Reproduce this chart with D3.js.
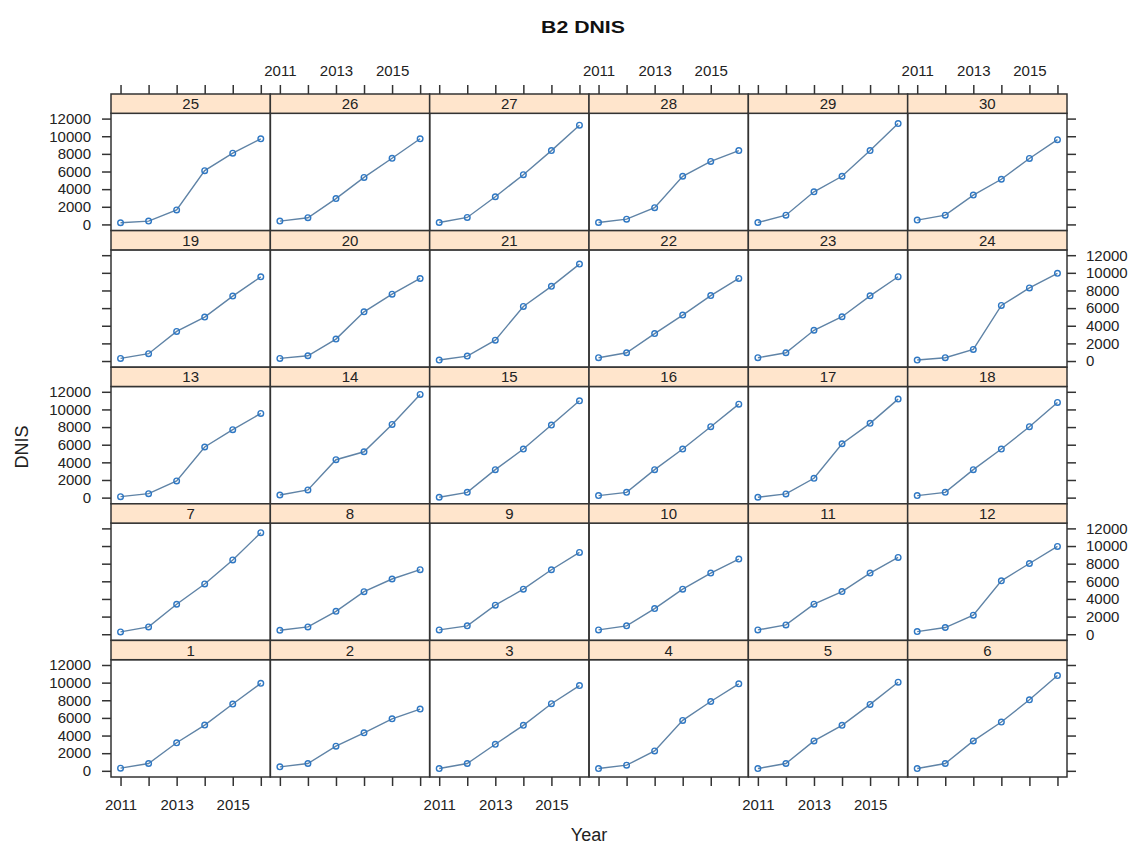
<!DOCTYPE html>
<html>
<head>
<meta charset="utf-8">
<script src="https://cdn.jsdelivr.net/npm/d3@7"></script>
<style>
  html, body { margin: 0; padding: 0; background: #fff; }
  svg { display: block; }
  text { font-family: "Liberation Sans", Arial, sans-serif; fill: #222; }
</style>
</head>
<body>
<svg id="chart" width="1133" height="846"></svg>
<script>
// Years on the x axis
const years = [2011, 2012, 2013, 2014, 2015, 2016];
// Tick values
const yTicks = [0, 2000, 4000, 6000, 8000, 10000, 12000];
const xLabelYears = [2011, 2013, 2015];
// Panel identifiers (1..30)
const panelIds = d3.range(1, 31);
// DNIS per panel, one value per year
const dnis1  = [300, 830, 3180, 5190, 7570, 9920];
const dnis2  = [450, 830, 2800, 4310, 5900, 7000];
const dnis3  = [260, 830, 3010, 5160, 7610, 9670];
const dnis4  = [260, 640, 2260, 5720, 7860, 9860];
const dnis5  = [260, 830, 3390, 5160, 7530, 10050];
const dnis6  = [260, 830, 3390, 5530, 8050, 10800];
const dnis7  = [260, 830, 3400, 5700, 8420, 11510];
const dnis8  = [450, 830, 2600, 4830, 6260, 7320];
const dnis9  = [490, 950, 3290, 5110, 7310, 9270];
const dnis10 = [490, 950, 2910, 5110, 6930, 8520];
const dnis11 = [490, 1060, 3410, 4840, 6930, 8710];
const dnis12 = [300, 760, 2160, 6060, 8020, 9950];
const dnis13 = [110, 450, 1890, 5740, 7700, 9550];
const dnis14 = [300, 870, 4300, 5200, 8300, 11700];
const dnis15 = [40, 600, 3170, 5510, 8230, 10980];
const dnis16 = [230, 600, 3170, 5510, 8040, 10600];
const dnis17 = [40, 420, 2190, 6110, 8420, 11170];
const dnis18 = [230, 600, 3170, 5510, 8040, 10790];
const dnis19 = [300, 830, 3360, 4980, 7360, 9550];
const dnis20 = [300, 600, 2490, 5580, 7580, 9360];
const dnis21 = [110, 560, 2360, 6190, 8470, 10990];
const dnis22 = [375, 940, 3110, 5210, 7420, 9370];
const dnis23 = [375, 940, 3490, 5020, 7390, 9560];
const dnis24 = [110, 375, 1310, 6300, 8290, 9940];
const dnis25 = [190, 380, 1640, 6100, 8080, 9710];
const dnis26 = [380, 760, 2930, 5330, 7500, 9710];
const dnis27 = [220, 790, 3140, 5640, 8370, 11250];
const dnis28 = [220, 600, 1900, 5460, 7140, 8370];
const dnis29 = [220, 1050, 3700, 5460, 8370, 11440];
const dnis30 = [490, 1050, 3330, 5120, 7480, 9610];

const series = [dnis1, dnis2, dnis3, dnis4, dnis5, dnis6, dnis7, dnis8, dnis9, dnis10,
  dnis11, dnis12, dnis13, dnis14, dnis15, dnis16, dnis17, dnis18, dnis19, dnis20,
  dnis21, dnis22, dnis23, dnis24, dnis25, dnis26, dnis27, dnis28, dnis29, dnis30];

// Layout
const nCols = 6, nRows = 5;
const gridLeft = 111, gridRight = 1067, gridTop = 94, gridBottom = 777;
const colW = (gridRight - gridLeft) / nCols;
const rowH = (gridBottom - gridTop) / nRows;
const stripH = 19.3;
const panelH = rowH - stripH;
const tickLen = 9;

const lineColor = "#5f83a6";
const pointColor = "#2f78c4";
const stripFill = "#ffe5cc";
const frameColor = "#333";

const svg = d3.select("#chart");

const x = d3.scaleLinear().domain([2010.66, 2016.34]).range([0, colW]);
const y = d3.scaleLinear().domain([-700, 12600]).range([panelH, 0]);

const fmtX = d => xLabelYears.includes(d) ? String(d) : "";
const noLabel = () => "";

// Title
svg.append("text")
  .attr("transform", "translate(583,33) scale(1.25,1)")
  .attr("text-anchor", "middle")
  .style("font-weight", "bold")
  .style("font-size", "17px")
  .style("fill", "#111")
  .text("B2 DNIS");

// Axis titles
svg.append("text")
  .attr("x", 589).attr("y", 841)
  .attr("text-anchor", "middle")
  .style("font-size", "18px")
  .text("Year");
svg.append("text")
  .attr("transform", "translate(28,447) rotate(-90)")
  .attr("text-anchor", "middle")
  .style("font-size", "18px")
  .text("DNIS");

function styleAxis(g) {
  g.select(".domain").remove();
  g.selectAll(".tick line").attr("stroke", frameColor).attr("stroke-width", 1.5);
  g.selectAll(".tick text").style("font-size", "15px").style("fill", "#222").attr("font-family", null);
}

for (let r = 0; r < nRows; r++) {
  for (let c = 0; c < nCols; c++) {
    const id = (nRows - 1 - r) * nCols + c + 1;
    const vals = series[id - 1];
    const px = gridLeft + c * colW;
    const stripTop = gridTop + r * rowH;
    const py = stripTop + stripH;

    const panel = svg.append("g").attr("transform", `translate(${px},${py})`);

    // data line and open circles
    const pts = years.map((yr, i) => ({ yr, v: vals[i] }));
    panel.append("path")
      .datum(pts)
      .attr("fill", "none")
      .attr("stroke", lineColor)
      .attr("stroke-width", 1.4)
      .attr("d", d3.line().x(d => x(d.yr)).y(d => y(d.v)));
    panel.selectAll("circle")
      .data(pts)
      .join("circle")
      .attr("cx", d => x(d.yr))
      .attr("cy", d => y(d.v))
      .attr("r", 2.8)
      .attr("fill", "none")
      .attr("stroke", pointColor)
      .attr("stroke-width", 1.4);

    // panel frame
    panel.append("rect")
      .attr("x", 0).attr("y", 0).attr("width", colW).attr("height", panelH)
      .attr("fill", "none").attr("stroke", frameColor).attr("stroke-width", 1.5);

    // strip
    const strip = svg.append("g").attr("transform", `translate(${px},${stripTop})`);
    strip.append("rect")
      .attr("width", colW).attr("height", stripH)
      .attr("fill", stripFill).attr("stroke", frameColor).attr("stroke-width", 1.5);
    strip.append("text")
      .attr("x", colW / 2).attr("y", stripH / 2 + 5.5)
      .attr("text-anchor", "middle")
      .style("font-size", "15px")
      .text(id);

    // left axis (first column)
    if (c === 0) {
      const labelled = r % 2 === 0;
      panel.append("g")
        .call(d3.axisLeft(y).tickValues(yTicks).tickSize(tickLen).tickPadding(11)
          .tickFormat(labelled ? d3.format("d") : noLabel))
        .call(styleAxis);
    }
    // right axis (last column)
    if (c === nCols - 1) {
      const labelled = r % 2 === 1;
      panel.append("g")
        .attr("transform", `translate(${colW},0)`)
        .call(d3.axisRight(y).tickValues(yTicks).tickSize(tickLen).tickPadding(10)
          .tickFormat(labelled ? d3.format("d") : noLabel))
        .call(styleAxis);
    }
    // top axis (first row), drawn above the strip
    if (r === 0) {
      const labelled = c % 2 === 1;
      svg.append("g")
        .attr("transform", `translate(${px},${stripTop})`)
        .call(d3.axisTop(x).tickValues(years).tickSize(tickLen).tickPadding(9)
          .tickFormat(labelled ? fmtX : noLabel))
        .call(styleAxis);
    }
    // bottom axis (last row)
    if (r === nRows - 1) {
      const labelled = c % 2 === 0;
      panel.append("g")
        .attr("transform", `translate(0,${panelH})`)
        .call(d3.axisBottom(x).tickValues(years).tickSize(tickLen).tickPadding(13)
          .tickFormat(labelled ? fmtX : noLabel))
        .call(styleAxis);
    }
  }
}
</script>
</body>
</html>
